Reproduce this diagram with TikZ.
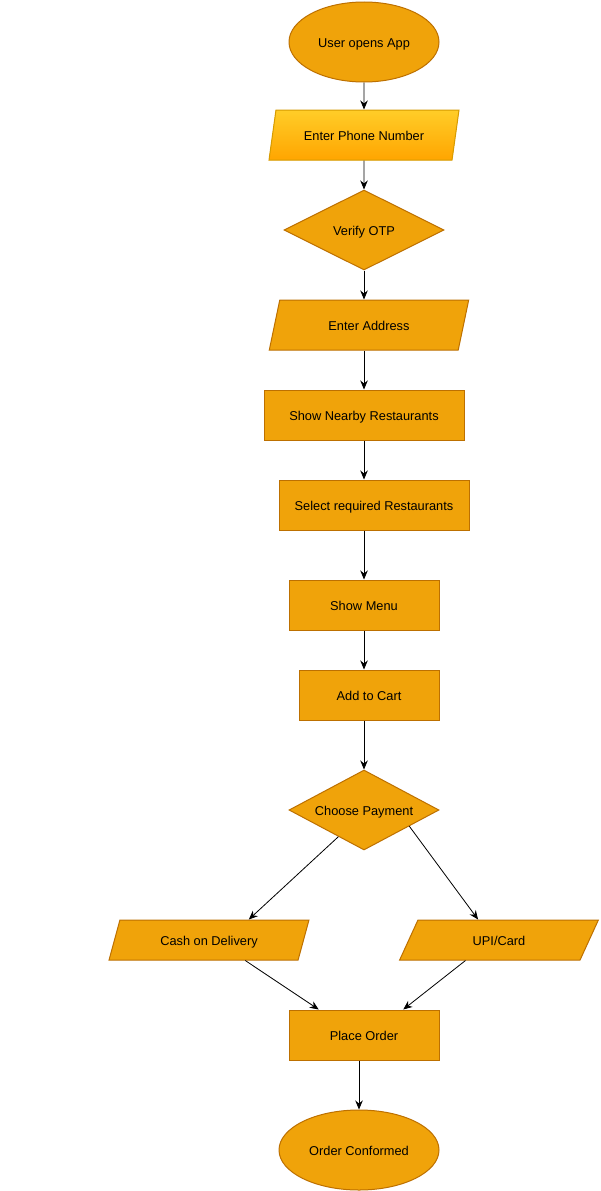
\documentclass[tikz,border=0pt]{standalone}
\usepackage{fontspec}
\setmainfont{Liberation Sans}
\usetikzlibrary{shapes.geometric,arrows.meta,calc}
\definecolor{ofill}{HTML}{F0A30A}
\definecolor{oline}{HTML}{BD7000}
\definecolor{gtop}{HTML}{FFCD28}
\definecolor{gbot}{HTML}{FFA500}
\definecolor{gline}{HTML}{D79B00}
\begin{document}
\begin{tikzpicture}[x=1pt,y=-1pt,
  base/.style={draw=oline,fill=ofill,line width=1pt,inner sep=0pt,
    font=\fontsize{12.8}{15}\selectfont,text=black,
    text height=11.4pt,text depth=0.5pt},
  ovalbox/.style={base,ellipse,minimum width=#1,minimum height=80pt},
  rectbox/.style={base,rectangle,minimum width=#1,minimum height=50pt},
  diabox/.style={base,diamond,aspect=1.9,minimum width=#1,minimum height=80pt},
  parabox/.style 2 args={base,trapezium,trapezium stretches=true,
    trapezium left angle=#2,trapezium right angle=180-#2,
    minimum width=#1,minimum height=50pt},
  paralow/.style={base,trapezium,trapezium stretches=true,
    trapezium left angle=63.43,trapezium right angle=116.57,
    minimum width=200pt,minimum height=40pt},
  arr/.style={draw=black,line width=0.8pt,-{Stealth[length=9pt,width=7.5pt]}}
]
\useasboundingbox[fill=white] (0,0) rectangle (600,1191);

\node[ovalbox=150pt] (start) at (364,42) {User opens App};
\node[parabox={190pt}{68.2},shading=axis,top color=gtop,bottom color=gbot,draw=gline] (phone) at (364,135) {Enter Phone Number};
\node[diabox=160pt] (otp) at (364,230) {Verify OTP};
\node[parabox={200pt}{68.2}] (addr) at (369,325) {Enter Address};
\node[rectbox=200pt] (nearby) at (364,415) {Show Nearby Restaurants};
\node[rectbox=190pt] (sel) at (374,505) {Select required Restaurants};
\node[rectbox=150pt] (menu) at (364,605) {Show Menu};
\node[rectbox=140pt] (cart) at (369,695) {Add to Cart};
\node[diabox=150pt] (pay) at (364,810) {Choose Payment};
\node[paralow] (cash) at (209,940) {Cash on Delivery};
\node[paralow] (upi) at (499,940) {UPI/Card};
\node[rectbox=150pt] (place) at (364,1035) {Place Order};
\node[ovalbox=160pt] (done) at (359,1150) {Order Conformed};

\draw[arr] (start.south) -- (phone.north);
\draw[arr] (phone.south) -- (otp.north);
\draw[arr] (otp.south) -- (otp.south |- addr.north);
\draw[arr] (addr.south -| nearby.north) -- (nearby.north);
\draw[arr] (nearby.south) -- (nearby.south |- sel.north);
\draw[arr] (sel.south -| menu.north) -- (menu.north);
\draw[arr] (menu.south) -- (menu.south |- cart.north);
\draw[arr] (cart.south -| pay.north) -- (pay.north);
\draw[arr] ($(pay.west)!0.66!(pay.south)$) -- ($(cash.top left corner)!0.68!(cash.top right corner)$);
\draw[arr] ($(pay.east)!0.4!(pay.south)$) -- ($(upi.top left corner)!0.333!(upi.top right corner)$);
\draw[arr] ($(cash.bottom left corner)!0.72!(cash.bottom right corner)$) -- ($(place.north west)!0.2!(place.north east)$);
\draw[arr] ($(upi.bottom left corner)!0.367!(upi.bottom right corner)$) -- ($(place.north west)!0.76!(place.north east)$);
\draw[arr] (place.south -| done.north) -- (done.north);
\end{tikzpicture}
\end{document}
